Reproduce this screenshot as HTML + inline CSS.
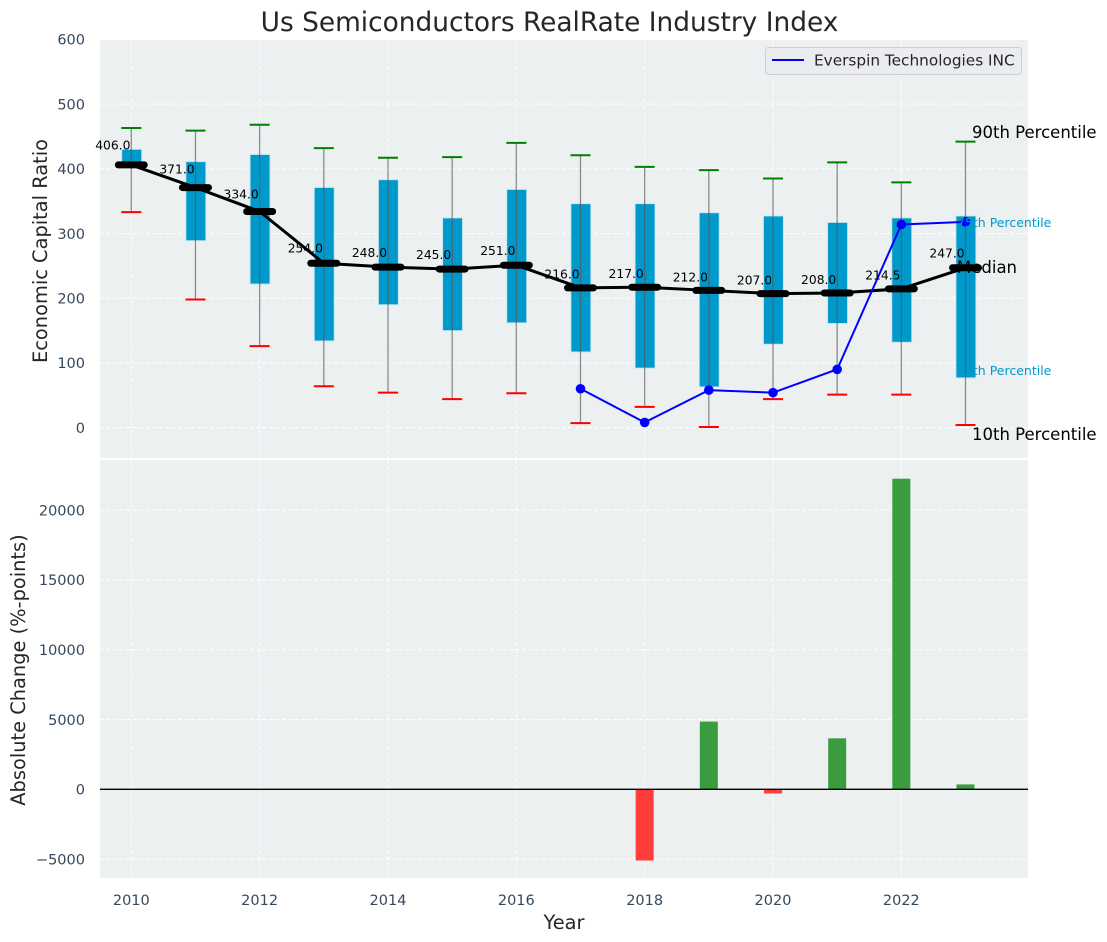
<!DOCTYPE html>
<html>
<head>
<meta charset="utf-8">
<style>
html,body{margin:0;padding:0;background:#fff;width:1107px;height:942px;overflow:hidden}
svg{display:block}
text{font-family:"DejaVu Sans","Liberation Sans",sans-serif}
</style>
</head>
<body>
<svg id="chart" xmlns="http://www.w3.org/2000/svg" width="1107" height="942" viewBox="0 0 1107 942"></svg>
<script>
const years = [2010,2011,2012,2013,2014,2015,2016,2017,2018,2019,2020,2021,2022,2023];
const p90 = [463,459,468,432,417,418,440,421,403,398,385,410,379,442];
const p10 = [333,198,126,64,54,44,53,7,32,1,44,51,51,4];
const p75 = [430,411,422,371,383,324,368,346,346,332,327,317,324,327];
const p25 = [406,289,222,134,190,150,162,117,92,63,129,161,132,77];
const medians = [406,371,334,254,248,245,251,216,217,212,207,208,214.5,247];
const medianLabels = ["406.0","371.0","334.0","254.0","248.0","245.0","251.0","216.0","217.0","212.0","207.0","208.0","214.5","247.0"];
const companyYears = [2017,2018,2019,2020,2021,2022,2023];
const companyValues = [60,8,58,54,90,314,318];
const changeYears = [2018,2019,2020,2021,2022,2023];
const changeValues = [-5100,4850,-300,3650,22250,350];
const xTicks = [2010,2012,2014,2016,2018,2020,2022];
const topTicks = [0,100,200,300,400,500,600];
const bottomTicks = [-5000,0,5000,10000,15000,20000];

const NS = "http://www.w3.org/2000/svg";
const svg = document.getElementById("chart");
const X = v => 131.3 + 64.17 * (v - 2010);
const YT = v => 427.6 - 0.647 * v;
const YB = v => 789.3 - 0.01396 * v;

function add(tag, attrs, name, text) {
  const el = document.createElementNS(NS, tag);
  for (const k in attrs) el.setAttribute(k, attrs[k]);
  
  
  if (text !== undefined) el.textContent = text;
  svg.appendChild(el);
  return el;
}

// panels
add('rect',{x:100,y:40,width:928,height:418,fill:'#ecf0f1'},'price-panel-background');
add('rect',{x:100,y:460,width:928,height:418,fill:'#ecf0f1'},'change-panel-background');

// grids
const gridStyle = {stroke:'#ffffff','stroke-width':1.1,'stroke-dasharray':'4 2.5','stroke-opacity':0.9};
xTicks.forEach(t => {
  add('line',{x1:X(t),x2:X(t),y1:40,y2:458,...gridStyle},'top-grid-x-'+t);
  add('line',{x1:X(t),x2:X(t),y1:460,y2:878,...gridStyle},'bottom-grid-x-'+t);
  add('text',{x:X(t),y:905,'text-anchor':'middle','font-size':14.5,fill:'#34495e'},'x-tick-'+t,String(t));
});
topTicks.forEach(t => {
  if (t !== 600) add('line',{x1:100,x2:1028,y1:YT(t),y2:YT(t),...gridStyle},'top-grid-y-'+t);
  add('text',{x:85,y:YT(t)+5.3,'text-anchor':'end','font-size':14.5,fill:'#34495e'},'top-y-tick-'+t,String(t));
});
bottomTicks.forEach(t => {
  add('line',{x1:100,x2:1028,y1:YB(t),y2:YB(t),...gridStyle},'bottom-grid-y-'+t);
  add('text',{x:85,y:YB(t)+5.3,'text-anchor':'end','font-size':14.5,fill:'#34495e'},'bottom-y-tick-'+t,String(t).replace('-','\u2212'));
});

// boxes
years.forEach((yr,i) => {
  add('rect',{x:X(yr)-9.5,y:YT(p75[i]),width:19.8,height:YT(p25[i])-YT(p75[i]),fill:'#0099cc',stroke:'#bfe3ee','stroke-width':0.8},'box-'+yr);
});
// whiskers and caps
years.forEach((yr,i) => {
  add('line',{x1:X(yr),x2:X(yr),y1:YT(p90[i]),y2:YT(p10[i]),stroke:'#555555','stroke-width':1.3,'stroke-opacity':0.65},'whisker-'+yr);
  add('line',{x1:X(yr)-10,x2:X(yr)+10,y1:YT(p90[i]),y2:YT(p90[i]),stroke:'#008000','stroke-width':2},'cap-90th-'+yr);
  add('line',{x1:X(yr)-10,x2:X(yr)+10,y1:YT(p10[i]),y2:YT(p10[i]),stroke:'#ff0000','stroke-width':2},'cap-10th-'+yr);
});
// median line
add('polyline',{points:years.map((yr,i)=>X(yr)+','+YT(medians[i])).join(' '),fill:'none',stroke:'#000','stroke-width':3,'stroke-linejoin':'round'},'median-line');
years.forEach((yr,i) => {
  add('line',{x1:X(yr)-13,x2:X(yr)+13,y1:YT(medians[i]),y2:YT(medians[i]),stroke:'#000','stroke-width':7,'stroke-linecap':'round'},'median-marker-'+yr);
});
// company line
add('polyline',{points:companyYears.map((yr,i)=>X(yr)+','+YT(companyValues[i])).join(' '),fill:'none',stroke:'#0000ff','stroke-width':2},'company-line');
companyYears.forEach((yr,i) => {
  add('circle',{cx:X(yr),cy:YT(companyValues[i]),r:4.8,fill:'#0000ff'},'company-point-'+yr);
});
// median value labels (placed 5% above the median)
years.forEach((yr,i) => {
  add('text',{x:X(yr)-18.5,y:YT(medians[i]*1.05)-2.3,'text-anchor':'middle','font-size':12.3,fill:'#000'},'median-label-'+yr,medianLabels[i]);
});

// percentile annotations
add('text',{x:972,y:138,'font-size':16.5,fill:'#000'},'label-90th-percentile','90th Percentile');
add('text',{x:957,y:273,'font-size':16.5,fill:'#000'},'label-median','Median');
add('text',{x:972,y:440,'font-size':16.5,fill:'#000'},'label-10th-percentile','10th Percentile');
add('text',{x:957,y:227,'font-size':12.5,fill:'#0099cc'},'label-75th-percentile','75th Percentile');
add('text',{x:957,y:375,'font-size':12.5,fill:'#0099cc'},'label-25th-percentile','25th Percentile');

// change bars
changeYears.forEach((yr,i) => {
  const v = changeValues[i];
  const top = Math.min(YB(0),YB(v));
  add('rect',{x:X(yr)-9,y:top,width:18,height:Math.abs(YB(v)-YB(0)),fill:v>=0?'#3a9c3f':'#ff3d3d'},'change-bar-'+yr);
});
add('line',{x1:100,x2:1028,y1:YB(0),y2:YB(0),stroke:'#000','stroke-width':1.4},'zero-line');

// titles
add('text',{x:549.5,y:31,'text-anchor':'middle','font-size':26.4,fill:'#262626'},'chart-title','Us Semiconductors RealRate Industry Index');
add('text',{x:564,y:929,'text-anchor':'middle','font-size':19.4,fill:'#262626'},'x-axis-title','Year');
add('text',{x:0,y:0,transform:'translate(47,251) rotate(-90)','text-anchor':'middle','font-size':19.4,fill:'#262626'},'top-y-axis-title','Economic Capital Ratio');
add('text',{x:0,y:0,transform:'translate(25,670) rotate(-90)','text-anchor':'middle','font-size':19.4,fill:'#262626'},'bottom-y-axis-title','Absolute Change (%-points)');

// legend
add('rect',{x:765.5,y:47.5,width:256,height:27,rx:3,fill:'#eaecf0',stroke:'#cfcfcf','stroke-width':1},'legend-box');
add('line',{x1:772,x2:804,y1:60,y2:60,stroke:'#0000ff','stroke-width':2},'legend-line');
add('text',{x:814,y:65.5,'font-size':15.3,fill:'#262626'},'legend-label','Everspin Technologies INC');
</script>
</body>
</html>
